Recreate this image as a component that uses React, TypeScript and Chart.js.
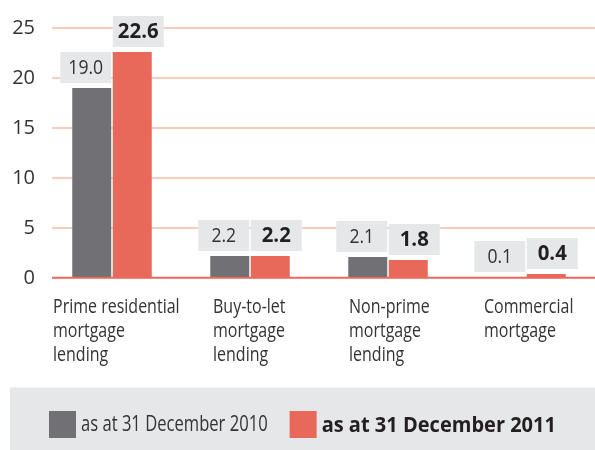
import React, { useEffect, useRef } from "react";
import { Chart, registerables } from "chart.js";

Chart.register(...registerables);

const CATEGORIES: string[][] = [
  ["Prime residential", "mortgage", "lending"],
  ["Buy-to-let", "mortgage", "lending"],
  ["Non-prime", "mortgage", "lending"],
  ["Commercial", "mortgage"],
];
const SERIES_LABELS = ["as at 31 December 2010", "as at 31 December 2011"];
const VALUES_2010 = [19.0, 2.2, 2.1, 0.1];
const VALUES_2011 = [22.6, 2.2, 1.8, 0.4];
const Y_TICKS = [0, 5, 10, 15, 20, 25];

const GRAY = "#717074";
const RED = "#e8695a";
const GRID = "#f6bcab";
const BOX = "#e6e7e9";
const TEXT = "#333333";
const DARK = "#231f20";
const FONT = "'Open Sans', 'Noto Sans', sans-serif";

// layout constants (pixels)
const GRID_LEFT = 52;
const LABEL_DX = [-59, -37, -39, -42];

function drawText(ctx: CanvasRenderingContext2D, text: string, x: number, y: number, sx: number) {
  ctx.save();
  ctx.translate(x, y);
  ctx.scale(sx, 1);
  ctx.fillText(text, 0, 0);
  ctx.restore();
}

const decor = {
  id: "decor",
  beforeDatasetsDraw(chart: any) {
    const { ctx, chartArea, scales } = chart;
    const y = scales.y;
    ctx.save();
    ctx.strokeStyle = GRID;
    ctx.lineWidth = 1.5;
    for (const v of Y_TICKS) {
      if (v === 0) continue;
      const py = y.getPixelForValue(v);
      ctx.beginPath();
      ctx.moveTo(GRID_LEFT, py);
      ctx.lineTo(chartArea.right, py);
      ctx.stroke();
    }
    ctx.restore();
  },
  afterDatasetsDraw(chart: any) {
    const { ctx, chartArea, scales } = chart;
    const x = scales.x;
    const y = scales.y;
    ctx.save();
    // zero line
    const zy = y.getPixelForValue(0);
    ctx.strokeStyle = RED;
    ctx.lineWidth = 2;
    ctx.beginPath();
    ctx.moveTo(GRID_LEFT, zy - 0.3);
    ctx.lineTo(chartArea.right, zy - 0.3);
    ctx.stroke();

    // value boxes
    const W = 51;
    const H = 31;
    chart.data.datasets.forEach((ds: any, di: number) => {
      const meta = chart.getDatasetMeta(di);
      meta.data.forEach((el: any, i: number) => {
        const left = di === 0 ? el.x + el.width / 2 - W : el.x - el.width / 2;
        const top = el.y - 5 - H;
        ctx.fillStyle = BOX;
        ctx.fillRect(left, top, W, H);
        ctx.textAlign = "center";
        ctx.textBaseline = "middle";
        const label = Number(ds.data[i]).toFixed(1);
        if (di === 0) {
          ctx.fillStyle = TEXT;
          ctx.font = `20px ${FONT}`;
          drawText(ctx, label, left + W / 2, top + H / 2 + 1, 0.88);
        } else {
          ctx.fillStyle = DARK;
          ctx.font = `bold 21px ${FONT}`;
          drawText(ctx, label, left + W / 2, top + H / 2 + 1, 0.97);
        }
      });
    });

    // category labels
    ctx.fillStyle = TEXT;
    ctx.font = `20px ${FONT}`;
    ctx.textAlign = "left";
    ctx.textBaseline = "alphabetic";
    CATEGORIES.forEach((lines, i) => {
      const px = x.getPixelForValue(i) + LABEL_DX[i];
      lines.forEach((ln, k) => {
        drawText(ctx, ln, px, zy + 35 + k * 24, 0.8);
      });
    });

    // legend
    ctx.fillStyle = BOX;
    ctx.fillRect(10, 387.5, chart.width - 10, chart.height - 387.5);
    let lx = 49;
    const sw = 27;
    const cy = 424.5;
    chart.data.datasets.forEach((ds: any, di: number) => {
      ctx.fillStyle = ds.backgroundColor;
      ctx.fillRect(lx, cy - sw / 2, sw, sw);
      const sx = di === 0 ? 0.79 : 0.91;
      ctx.font = di === 0 ? `21px ${FONT}` : `bold 22px ${FONT}`;
      ctx.fillStyle = di === 0 ? TEXT : DARK;
      ctx.textAlign = "left";
      ctx.textBaseline = "middle";
      const tx = lx + sw + 5;
      drawText(ctx, ds.label, tx, cy + 1, sx);
      lx = tx + ctx.measureText(ds.label).width * sx + 22;
    });
    ctx.restore();
  },
};

export default function App() {
  const ref = useRef<HTMLCanvasElement>(null);
  useEffect(() => {
    if (!ref.current) return;
    const chart = new Chart(ref.current, {
      type: "bar",
      data: {
        labels: CATEGORIES.map((c) => c.join(" ")),
        datasets: [
          {
            label: SERIES_LABELS[0],
            data: VALUES_2010,
            backgroundColor: GRAY,
            categoryPercentage: 0.587,
            barPercentage: 0.963,
            borderWidth: 0,
          },
          {
            label: SERIES_LABELS[1],
            data: VALUES_2011,
            backgroundColor: RED,
            categoryPercentage: 0.587,
            barPercentage: 0.963,
            borderWidth: 0,
          },
        ],
      },
      options: {
        animation: false,
        responsive: true,
        maintainAspectRatio: false,
        layout: { padding: { top: 28, bottom: 172, left: 0, right: 0 } },
        plugins: { legend: { display: false }, tooltip: { enabled: false } },
        scales: {
          x: { type: "category", display: false, offset: true },
          y: {
            min: 0,
            max: 25,
            afterFit: (s: any) => {
              s.width = 43;
            },
            afterBuildTicks: (s: any) => {
              s.ticks = Y_TICKS.map((v) => ({ value: v }));
            },
            grid: { display: false, drawTicks: false },
            border: { display: false },
            ticks: {
              padding: 8,
              color: TEXT,
              font: { family: FONT, size: 20 },
            },
          },
        },
      },
      plugins: [decor],
    });
    return () => chart.destroy();
  }, []);
  return (
    <div style={{ position: "absolute", left: 0, top: 0, width: 595, height: 450 }}>
      <canvas ref={ref} style={{ display: "block" }} />
    </div>
  );
}
